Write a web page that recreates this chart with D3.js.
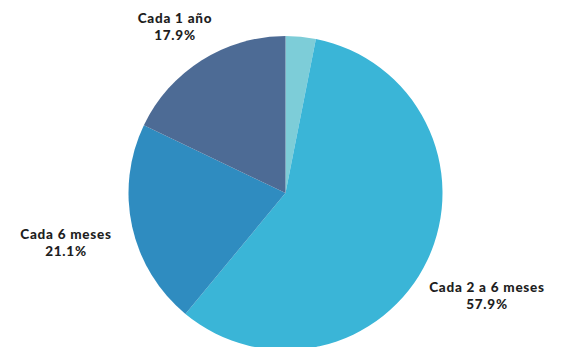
<!DOCTYPE html>
<html>
<head>
<meta charset="utf-8">
<script src="https://cdn.jsdelivr.net/npm/d3@7"></script>
<style>
  body { margin: 0; background: #fff; }
  svg { display: block; }
  text { font-family: "Lato", "Open Sans", sans-serif; font-weight: 900; fill: #1e1e1e; letter-spacing: 0.75px; }
</style>
</head>
<body>
<svg id="chart" width="567" height="347"></svg>
<script>
// Frequency shares, clockwise from 12 o'clock
const categories = ["Otro", "Cada 2 a 6 meses", "Cada 6 meses", "Cada 1 año"];
const shares = [3.1, 57.9, 21.1, 17.9];
const colors = ["#7dcdd8", "#3ab5d7", "#2f8cc0", "#4d6b95"];
const showLabel = [false, true, true, true];
// label anchor points (x, baseline of first line)
const labelPos = [null, [487, 292], [66, 239], [175, 23]];

const svg = d3.select("#chart");
const cx = 285.5, cy = 193, r = 157;

const pie = d3.pie().sort(null).value(d => d.value);
const arc = d3.arc().innerRadius(0).outerRadius(r);
const data = categories.map((c, i) => ({ name: c, value: shares[i], color: colors[i], i }));

const g = svg.append("g").attr("transform", `translate(${cx},${cy})`);
g.selectAll("path")
  .data(pie(data))
  .join("path")
  .attr("d", arc)
  .attr("fill", d => d.data.color);

const labels = svg.append("g").attr("text-anchor", "middle").attr("font-size", 13.5);
data.filter(d => showLabel[d.i]).forEach(d => {
  const [x, y] = labelPos[d.i];
  labels.append("text").attr("x", x).attr("y", y).text(d.name);
  labels.append("text").attr("x", x).attr("y", y + 16.5).text(d3.format(".1f")(d.value) + "%");
});
</script>
</body>
</html>
